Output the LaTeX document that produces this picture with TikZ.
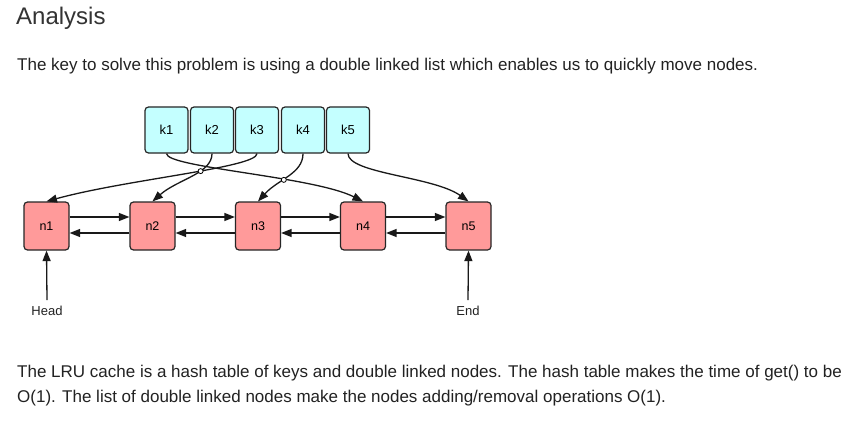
\documentclass[tikz,border=0pt]{standalone}
\usepackage{fontspec}
\setmainfont{Liberation Sans}
\usetikzlibrary{arrows.meta,intersections}
\definecolor{keyfill}{HTML}{C4FFFF}
\definecolor{nodefill}{HTML}{FF9A9A}
\definecolor{txt}{HTML}{222222}
\begin{document}
\begin{tikzpicture}[x=1pt,y=-1pt,
  keybox/.style={draw=black!85, line width=1.2pt, fill=keyfill, rounded corners=3.5pt,
    minimum width=43pt, minimum height=46pt, inner sep=0pt, font=\fontsize{13}{15}\selectfont},
  listbox/.style={draw=black!85, line width=1.2pt, fill=nodefill, rounded corners=3.5pt,
    minimum width=45pt, minimum height=48pt, inner sep=0pt, font=\fontsize{12.5}{14}\selectfont},
  arr/.style={line width=1.3pt, draw=black!90, -{Triangle[length=10.5pt,width=8pt]}},
  para/.style={anchor=base west, inner sep=0pt, text=txt, font=\fontsize{17}{20}\selectfont},
  lbl/.style={inner sep=0pt, font=\fontsize{13}{15}\selectfont, text=txt}]
\useasboundingbox[fill=white] (0,0) rectangle (851,433);

\node[anchor=base west, inner sep=0pt, text=black!80, font=\fontsize{24}{28}\selectfont] (title) at (16,25) {Analysis};
\node[para] (p1) at (17,71) {The key to solve this problem is using a double linked list which enables us to quickly move nodes.};
\node[para] (p2a) at (17,377) {The LRU cache is a hash table of keys and double linked nodes. The hash table makes the time of get() to be};
\node[para] (p2b) at (17,402) {O(1). The list of double linked nodes make the nodes adding/removal operations O(1).};

% keys
\node[keybox] (k1) at (166.5,130) {k1};
\node[keybox] (k2) at (212,130) {k2};
\node[keybox] (k3) at (257,130) {k3};
\node[keybox] (k4) at (303,130) {k4};
\node[keybox] (k5) at (348,130) {k5};

% list nodes
\node[listbox] (n1) at (46.5,226) {n1};
\node[listbox] (n2) at (152.5,226) {n2};
\node[listbox] (n3) at (258,226) {n3};
\node[listbox] (n4) at (363,226) {n4};
\node[listbox] (n5) at (468.5,226) {n5};

% key -> node curves
\draw[arr, name path=c1] (k1.south) .. controls +(0,14) and +(-50,-25) .. (n4.north);
\draw[arr, name path=c3] (k3.south) .. controls +(0,14) and +(80,-22) .. (n1.north);
\draw[arr, name path=c2] (k2.south) .. controls +(0,20) and +(25,-22) .. (n2.north);
\draw[arr, name path=c4] (k4.south) .. controls +(0,20) and +(20,-22) .. (n3.north);
\draw[arr] (k5.south) .. controls +(0,20) and +(-35,-25) .. (n5.north);

% line hops
\path[name intersections={of=c2 and c3, by=h1}];
\path[name intersections={of=c4 and c1, by=h2}];
\draw[line width=0.8pt, fill=white] (h1) circle (2.5pt);
\draw[line width=0.8pt, fill=white] (h2) circle (2.5pt);

% doubly linked arrows
\foreach \a/\b in {n1/n2,n2/n3,n3/n4,n4/n5}{
  \draw[arr] ([yshift=9pt]\a.east) -- ([yshift=9pt]\b.west);
  \draw[arr] ([yshift=-7pt]\b.west) -- ([yshift=-7pt]\a.east);
}

% head / end
\node[lbl] (head) at (47,311) {Head};
\node[lbl] (end) at (468,311) {End};
\draw[arr] ([yshift=6pt]head.north) -- (n1.south);
\draw[arr] ([yshift=6pt]end.north) -- (n5.south);
\end{tikzpicture}
\end{document}
